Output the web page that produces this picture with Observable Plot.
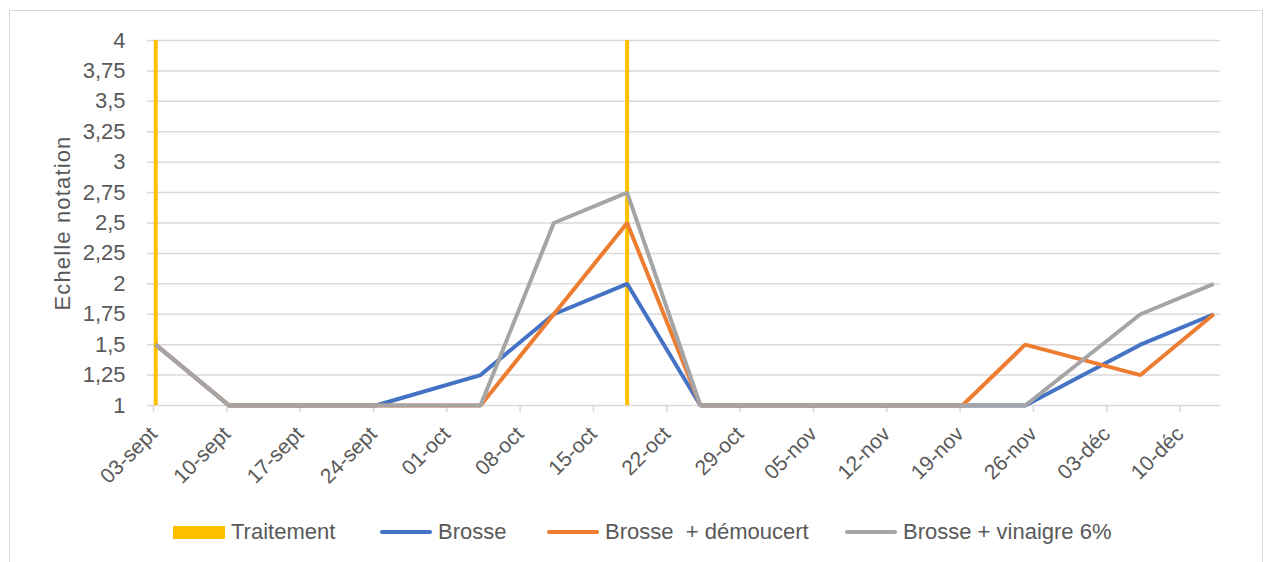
<!DOCTYPE html>
<html>
<head>
<meta charset="utf-8">
<script src="https://cdn.jsdelivr.net/npm/d3@7"></script>
<script src="https://cdn.jsdelivr.net/npm/@observablehq/plot@0.6"></script>
<style>
  html, body { margin: 0; padding: 0; background: #fff; }
  body { width: 1265px; height: 562px; position: relative; overflow: hidden; font-family: "Liberation Sans", Arial, sans-serif; }
  #frame { position: absolute; left: 9px; top: 10px; width: 1254px; height: 560px; border: 1.5px solid #d9d9d9; box-sizing: border-box; }
  #chart { position: absolute; left: 0; top: 0; }
  .ylab text { letter-spacing: 1.15px; }
  .leg { position: absolute; top: 518px; height: 28px; display: flex; align-items: center; white-space: pre; font-size: 22px; color: #595959; }
  .sw { display: inline-block; margin-right: 6px; }
</style>
</head>
<body>
<div id="frame"></div>
<div id="chart"></div>
<div id="legend"></div>
<script>
// ---- data ----
const dates = ["2018-09-03","2018-09-10","2018-09-17","2018-09-24","2018-10-04","2018-10-11","2018-10-18","2018-10-25","2018-11-19","2018-11-25","2018-12-06","2018-12-13"];
const brosse     = [1.5, 1, 1, 1, 1.25, 1.75, 2,    1, 1, 1,   1.5,  1.75];
const demoucert  = [1.5, 1, 1, 1, 1,    1.75, 2.5,  1, 1, 1.5, 1.25, 1.75];
const vinaigre   = [1.5, 1, 1, 1, 1,    2.5,  2.75, 1, 1, 1,   1.75, 2];
const traitementDates = ["2018-09-03","2018-10-18"];
const seriesNames = ["Brosse", "Brosse  + démoucert", "Brosse + vinaigre 6%"];
const seriesColors = ["#4472C4", "#ED7D31", "#A5A5A5"];
const traitementName = "Traitement";
const traitementColor = "#FFC000";
const xTickDates = ["2018-09-03","2018-09-10","2018-09-17","2018-09-24","2018-10-01","2018-10-08","2018-10-15","2018-10-22","2018-10-29","2018-11-05","2018-11-12","2018-11-19","2018-11-26","2018-12-03","2018-12-10"];
const xTickLabels = ["03-sept","10-sept","17-sept","24-sept","01-oct","08-oct","15-oct","22-oct","29-oct","05-nov","12-nov","19-nov","26-nov","03-déc","10-déc"];
const yTicks = [1,1.25,1.5,1.75,2,2.25,2.5,2.75,3,3.25,3.5,3.75,4];
const yLabel = "Echelle notation";
const xDomain = ["2018-09-03","2018-12-14"];

// ---- build ----
const parse = s => new Date(s + "T00:00:00Z");
// like Excel's date axis, each value sits in the middle of its day
const midDay = s => d3.utcHour.offset(parse(s), 12);
const valueSets = [brosse, demoucert, vinaigre];
const rows = [];
seriesNames.forEach((name, si) => {
  dates.forEach((d, i) => rows.push({series: name, date: midDay(d), value: valueSets[si][i]}));
});
const tickDates = xTickDates.map(parse);
const labelByTime = new Map(tickDates.map((d, i) => [+d, xTickLabels[i]]));

const chart = Plot.plot({
  width: 1265,
  height: 505,
  marginTop: 40,
  marginLeft: 147,
  marginRight: 45,
  marginBottom: 100,
  style: {fontFamily: "'Liberation Sans', Arial, sans-serif", fontSize: "22px", color: "#595959", background: "transparent"},
  x: {type: "utc", domain: xDomain.map(parse), insetLeft: 3, insetRight: 1.5},
  y: {domain: [1, 4]},
  color: {domain: seriesNames, range: seriesColors},
  marks: [
    Plot.ruleY(yTicks, {stroke: "#d9d9d9", strokeWidth: 1.5}),
    Plot.axisY({ticks: yTicks, tickSize: 0, tickPadding: 22, tickFormat: d => String(d).replace(".", ","), label: null, fill: "#595959", fontSize: 22}),
    Plot.axisX({ticks: tickDates, tickSize: 7, tickPadding: 18, dx: 3, stroke: "#d9d9d9", strokeWidth: 1.5, strokeOpacity: 1, tickRotate: -45, tickFormat: d => labelByTime.get(+d), label: null, fill: "#595959", fontSize: 21}),
    Plot.text([yLabel], {frameAnchor: "left", text: d => d, rotate: -90, dx: -85, textAnchor: "middle", lineAnchor: "middle", fill: "#595959", fontSize: 22, className: "ylab"}),
    Plot.ruleX(traitementDates.map(midDay), {x: d => d, y1: 1, y2: 4, stroke: traitementColor, strokeWidth: 4}),
    Plot.line(rows, {x: "date", y: "value", z: "series", stroke: "series", strokeWidth: 4, strokeLinejoin: "miter", strokeLinecap: "butt"})
  ]
});
document.getElementById("chart").appendChild(chart);

// ---- legend ----
const legendItems = [{name: traitementName, color: traitementColor, kind: "rect"}]
  .concat(seriesNames.map((n, i) => ({name: n, color: seriesColors[i], kind: "line"})));
const legendLefts = [173, 380, 547, 845];
const leg = document.getElementById("legend");
legendItems.forEach((it, i) => {
  const el = document.createElement("div");
  el.className = "leg";
  el.style.left = legendLefts[i] + "px";
  const sw = document.createElement("span");
  sw.className = "sw";
  sw.style.width = "52px";
  sw.style.height = it.kind === "rect" ? "13px" : "4px";
  sw.style.background = it.color;
  if (it.kind === "line") sw.style.borderRadius = "2px";
  el.appendChild(sw);
  const tx = document.createElement("span");
  tx.textContent = it.name;
  el.appendChild(tx);
  leg.appendChild(el);
});
</script>
</body>
</html>
